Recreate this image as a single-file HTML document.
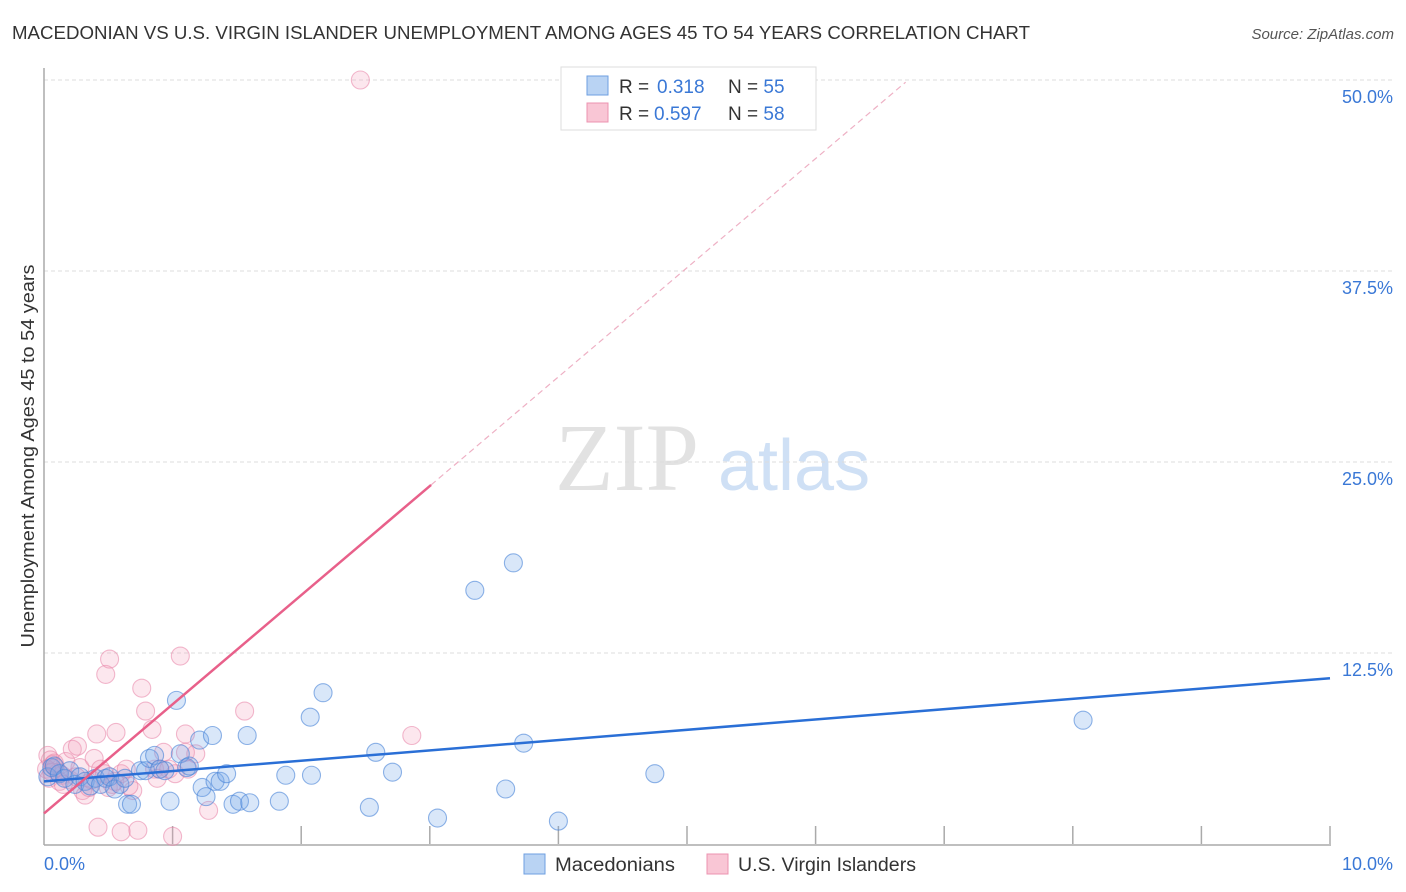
<!DOCTYPE html>
<html><head><meta charset="utf-8">
<style>
body{margin:0;background:#fff;font-family:"Liberation Sans",sans-serif;}
svg{display:block}
</style></head>
<body>
<svg width="1406" height="892" viewBox="0 0 1406 892" xmlns="http://www.w3.org/2000/svg">
<text x="12" y="39" font-size="18" fill="#333" textLength="1018" lengthAdjust="spacingAndGlyphs">MACEDONIAN VS U.S. VIRGIN ISLANDER UNEMPLOYMENT AMONG AGES 45 TO 54 YEARS CORRELATION CHART</text>
<text x="1394" y="39" font-size="15" fill="#555" font-style="italic" text-anchor="end">Source: ZipAtlas.com</text>
<g>
<text x="555" y="490" font-size="96" font-family="Liberation Serif,serif" fill="#e2e2e2">ZIP</text>
<text x="718" y="490" font-size="72" fill="#cfe0f5">atlas</text>
</g>
<g id="grid"></g>
<g id="axes"></g>
<text transform="translate(34,456) rotate(-90)" font-size="18" fill="#333" text-anchor="middle" textLength="383" lengthAdjust="spacingAndGlyphs">Unemployment Among Ages 45 to 54 years</text>
<g id="pts"></g>
<g id="lines"></g>
<g>
<rect x="561" y="67" width="255" height="63" fill="#fff" stroke="#ddd"/>
<rect x="587" y="76" width="21" height="19" fill="#b9d3f3" stroke="#6e9fe0"/>
<rect x="587" y="103" width="21" height="19" fill="#f9c6d5" stroke="#ec93b0"/>
<text x="619" y="93" font-size="19" fill="#333">R = <tspan x="657" fill="#3a78d6">0.318</tspan><tspan x="728">N = </tspan><tspan fill="#3a78d6">55</tspan></text>
<text x="619" y="120" font-size="19" fill="#333">R = <tspan x="654" fill="#3a78d6">0.597</tspan><tspan x="728">N = </tspan><tspan fill="#3a78d6">58</tspan></text>
</g>
<g>
<rect x="524" y="854" width="21" height="20" fill="#b9d3f3" stroke="#6e9fe0"/>
<text x="555" y="871" font-size="19" fill="#333" textLength="120" lengthAdjust="spacingAndGlyphs">Macedonians</text>
<rect x="707" y="854" width="21" height="20" fill="#f9c6d5" stroke="#ec93b0"/>
<text x="738" y="871" font-size="19" fill="#333" textLength="178" lengthAdjust="spacingAndGlyphs">U.S. Virgin Islanders</text>
</g>
</svg>
<script>
const yTicks=[12.5,25,37.5,50];
const yTickLabels=["12.5%","25.0%","37.5%","50.0%"];
const xTicks=[1,2,3,4,5,6,7,8,9,10];
const blueX=[0.03,0.06,0.08,0.12,0.16,0.2,0.24,0.28,0.32,0.36,0.4,0.44,0.48,0.51,0.55,0.59,0.63,0.65,0.68,0.75,0.79,0.82,0.86,0.9,0.94,0.98,1.03,1.06,1.11,1.13,1.21,1.23,1.26,1.31,1.33,1.37,1.42,1.47,1.52,1.58,1.6,1.83,1.88,2.07,2.08,2.17,2.53,2.58,2.71,3.06,3.35,3.59,3.65,3.73,4.0,4.75,8.08];
const blueY=[4.4,5.0,5.1,4.6,4.3,4.8,3.9,4.4,4.1,3.8,4.3,3.9,4.3,4.4,3.6,3.9,4.3,2.6,2.6,4.8,4.8,5.6,5.8,4.9,4.8,2.8,9.4,5.9,5.0,5.1,6.8,3.7,3.1,7.1,4.1,4.1,4.6,2.6,2.8,7.1,2.7,2.8,4.5,8.3,4.5,9.9,2.4,6.0,4.7,1.7,16.6,3.6,18.4,6.6,1.5,4.6,8.1];
const pinkX=[0.03,0.05,0.07,0.09,0.11,0.14,0.17,0.2,0.22,0.26,0.28,0.3,0.32,0.37,0.39,0.41,0.42,0.44,0.47,0.48,0.5,0.51,0.53,0.56,0.6,0.6,0.64,0.69,0.73,0.76,0.79,0.84,0.86,0.9,0.93,0.97,1.0,1.06,1.1,1.1,1.12,1.18,1.28,1.56,2.46,2.86,0.02,0.04,0.06,0.08,0.12,0.15,0.25,0.35,0.55,0.66,0.88,1.02];
const pinkY=[5.8,5.5,5.2,5.0,4.7,4.5,5.4,4.2,6.2,6.4,5.0,3.5,3.2,4.2,5.6,7.2,1.1,4.9,4.6,11.1,3.7,12.1,3.9,7.3,0.8,4.6,4.9,3.5,0.9,10.2,8.7,7.5,4.9,4.9,6.0,4.9,0.5,12.3,6.0,7.2,4.9,5.9,2.2,8.7,50.0,7.1,4.9,4.3,4.7,5.3,4.1,3.9,4.4,3.7,4.1,3.8,4.3,4.6];
const blueFit=[4.1,10.85];
const pinkFit=[2.0,23.5];
const X0=44,X1=1330,Y0=844,YS=191/12.5;
const px=v=>X0+(X1-X0)*v/10, py=v=>Y0-v*YS;
const NS="http://www.w3.org/2000/svg";
function mk(tag,attrs,parent){const e=document.createElementNS(NS,tag);for(const k in attrs)e.setAttribute(k,attrs[k]);parent.appendChild(e);return e;}
const grid=document.getElementById('grid'),axes=document.getElementById('axes'),pts=document.getElementById('pts'),lines=document.getElementById('lines');
yTicks.forEach((t,i)=>{
 const l=mk('line',{x1:X0,x2:1393,y1:py(t),y2:py(t),stroke:'#dcdcdc','stroke-dasharray':'4,3'},grid);
 
 
 const tx=mk('text',{x:1393,y:py(t)+23,'font-size':18,fill:'#3a78d6','text-anchor':'end'},axes);
 tx.textContent=yTickLabels[i];
 
 
});
mk('line',{x1:X0,x2:X0,y1:68,y2:Y0+1,stroke:'#aaa','stroke-width':1.5},axes);
mk('line',{x1:X0,x2:X1+1,y1:Y0+1,y2:Y0+1,stroke:'#aaa','stroke-width':1.5},axes);
xTicks.forEach(t=>{
 const l=mk('line',{x1:px(t),x2:px(t),y1:826,y2:Y0,stroke:'#aaa','stroke-width':1.5},axes);
 
 
});
const xl0=mk('text',{x:44,y:870,'font-size':18,fill:'#3a78d6'},axes);xl0.textContent='0.0%';


const xl1=mk('text',{x:1393,y:870,'font-size':18,fill:'#3a78d6','text-anchor':'end'},axes);xl1.textContent='10.0%';


pinkX.forEach((x,i)=>{
 const c=mk('circle',{cx:px(x),cy:py(pinkY[i]),r:9,fill:'rgba(244,160,188,0.25)',stroke:'rgba(232,130,165,0.55)','stroke-width':1.1},pts);
 
 
});
blueX.forEach((x,i)=>{
 const c=mk('circle',{cx:px(x),cy:py(blueY[i]),r:9,fill:'rgba(120,170,235,0.28)',stroke:'rgba(70,130,215,0.6)','stroke-width':1.1},pts);
 
 
});
const pEnd=3.01;
const pf=v=>pinkFit[0]+(pinkFit[1]-pinkFit[0])*v/pEnd;
const bl=mk('line',{x1:px(0),y1:py(blueFit[0]),x2:px(10),y2:py(blueFit[1]),stroke:'#2a6fd6','stroke-width':2.5},lines);


const pl=mk('line',{x1:px(0),y1:py(pf(0)),x2:px(pEnd),y2:py(pf(pEnd)),stroke:'#e8608a','stroke-width':2.5},lines);


const xe=6.7;
const pd=mk('line',{x1:px(pEnd),y1:py(pf(pEnd)),x2:px(xe),y2:py(pf(xe)),stroke:'#eeb0c4','stroke-width':1.2,'stroke-dasharray':'6,4'},lines);


</script>
</body></html>
